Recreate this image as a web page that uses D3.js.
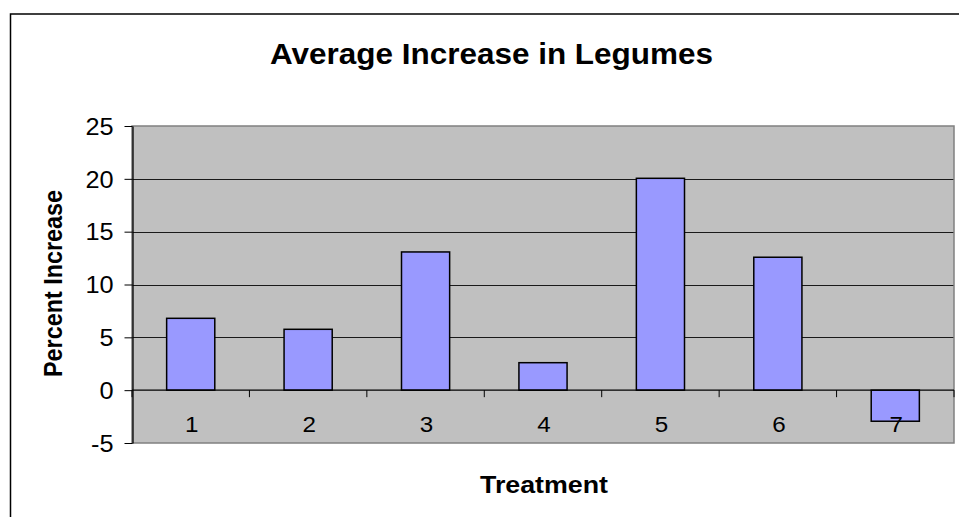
<!DOCTYPE html>
<html>
<head>
<meta charset="utf-8">
<script src="https://cdn.jsdelivr.net/npm/d3@7"></script>
<style>
  body { margin: 0; background: #fff; }
  svg { display: block; font-family: "Liberation Sans", Arial, sans-serif; }
</style>
</head>
<body>
<svg width="959" height="517"></svg>
<script>
// chart data
const categories = ["1", "2", "3", "4", "5", "6", "7"];
const values = [6.8, 5.76, 13.08, 2.6, 20.05, 12.58, -2.94];
const yTicks = [-5, 0, 5, 10, 15, 20, 25];
const gridValues = [5, 10, 15, 20];

const svg = d3.select("svg");

// plot area bounds
const plotLeft = 132, plotRight = 954, plotTop = 126, plotBottom = 443;

let x = d3.scaleBand().domain(categories).range([plotLeft, plotRight])
  .paddingInner(0.59).paddingOuter(0.295);
let y = d3.scaleLinear().domain([-5, 25]).range([plotBottom, plotTop]);
const step = x.step();

// outer chart border (runs off the page on right/bottom)
svg.append("rect")
  .attr("x", 10.5).attr("y", 14)
  .attr("width", 1000).attr("height", 600)
  .style("fill", "none")
  .style("stroke", "#000")
  .style("stroke-width", 1.5);

// plot background
svg.append("rect")
  .attr("x", plotLeft).attr("y", plotTop)
  .attr("width", plotRight - plotLeft).attr("height", plotBottom - plotTop)
  .style("fill", "#c0c0c0");

// gridlines
svg.append("g")
  .selectAll("line")
  .data(gridValues)
  .enter()
  .append("line")
  .attr("x1", plotLeft).attr("x2", plotRight)
  .attr("y1", d => Math.round(y(d)) + 0.5)
  .attr("y2", d => Math.round(y(d)) + 0.5)
  .style("stroke", "#1a1a1a")
  .style("stroke-width", 1);

// plot border
svg.append("rect")
  .attr("x", plotLeft).attr("y", plotTop)
  .attr("width", plotRight - plotLeft).attr("height", plotBottom - plotTop)
  .style("fill", "none")
  .style("stroke", "#808080")
  .style("stroke-width", 1.5);

// bars
svg.append("g")
  .selectAll("rect")
  .data(values)
  .enter()
  .append("rect")
  .attr("x", (d, i) => x(categories[i]))
  .attr("width", x.bandwidth())
  .attr("y", d => y(Math.max(0, d)))
  .attr("height", d => Math.abs(y(d) - y(0)))
  .style("fill", "#9999ff")
  .style("stroke", "#000")
  .style("stroke-width", 1.5);

// category axis on the zero line
const zeroY = y(0);
svg.append("line")
  .attr("x1", plotLeft).attr("x2", plotRight)
  .attr("y1", zeroY).attr("y2", zeroY)
  .style("stroke", "#000")
  .style("stroke-width", 1.3);

const bounds = categories.map(c => x(c) + x.bandwidth() / 2 - step / 2);
bounds.push(plotRight);
svg.append("g")
  .selectAll("line")
  .data(bounds)
  .enter()
  .append("line")
  .attr("x1", d => d).attr("x2", d => d)
  .attr("y1", zeroY).attr("y2", zeroY + 7)
  .style("stroke", "#000")
  .style("stroke-width", 1);

// category labels
svg.append("g")
  .selectAll("text")
  .data(categories)
  .enter()
  .append("text")
  .attr("transform", d => `translate(${x(d) + x.bandwidth() / 2 + 1},${zeroY + 41.5}) scale(1.1,1)`)
  .attr("text-anchor", "middle")
  .style("font-size", "22px")
  .style("fill", "#000")
  .text(d => d);

// value axis
let yAxis = d3.axisLeft(y).tickValues(yTicks).tickSize(8).tickSizeOuter(0)
  .tickFormat(d => String(d));
const gy = svg.append("g")
  .attr("transform", `translate(${plotLeft + 0.5},0)`)
  .call(yAxis);
gy.select(".domain").style("stroke", "#000").style("stroke-width", 1.3);
gy.selectAll(".tick line").style("stroke", "#000");
gy.selectAll(".tick text")
  .attr("x", null)
  .attr("dy", "0.36em")
  .attr("transform", "translate(-19,0) scale(1.1,1)")
  .style("font-size", "23px")
  .style("font-family", "'Liberation Sans', Arial, sans-serif")
  .style("fill", "#000");

// title
svg.append("text")
  .attr("x", 270).attr("y", 64)
  .attr("textLength", 443)
  .attr("lengthAdjust", "spacingAndGlyphs")
  .style("font-size", "30px")
  .style("font-weight", "bold")
  .text("Average Increase in Legumes");

// axis titles
svg.append("text")
  .attr("x", 480).attr("y", 493)
  .attr("textLength", 128)
  .attr("lengthAdjust", "spacingAndGlyphs")
  .style("font-size", "24px")
  .style("font-weight", "bold")
  .text("Treatment");

svg.append("text")
  .attr("transform", "translate(62,377) rotate(-90)")
  .attr("textLength", 187)
  .attr("lengthAdjust", "spacingAndGlyphs")
  .style("font-size", "25px")
  .style("font-weight", "bold")
  .text("Percent Increase");
</script>
</body>
</html>
